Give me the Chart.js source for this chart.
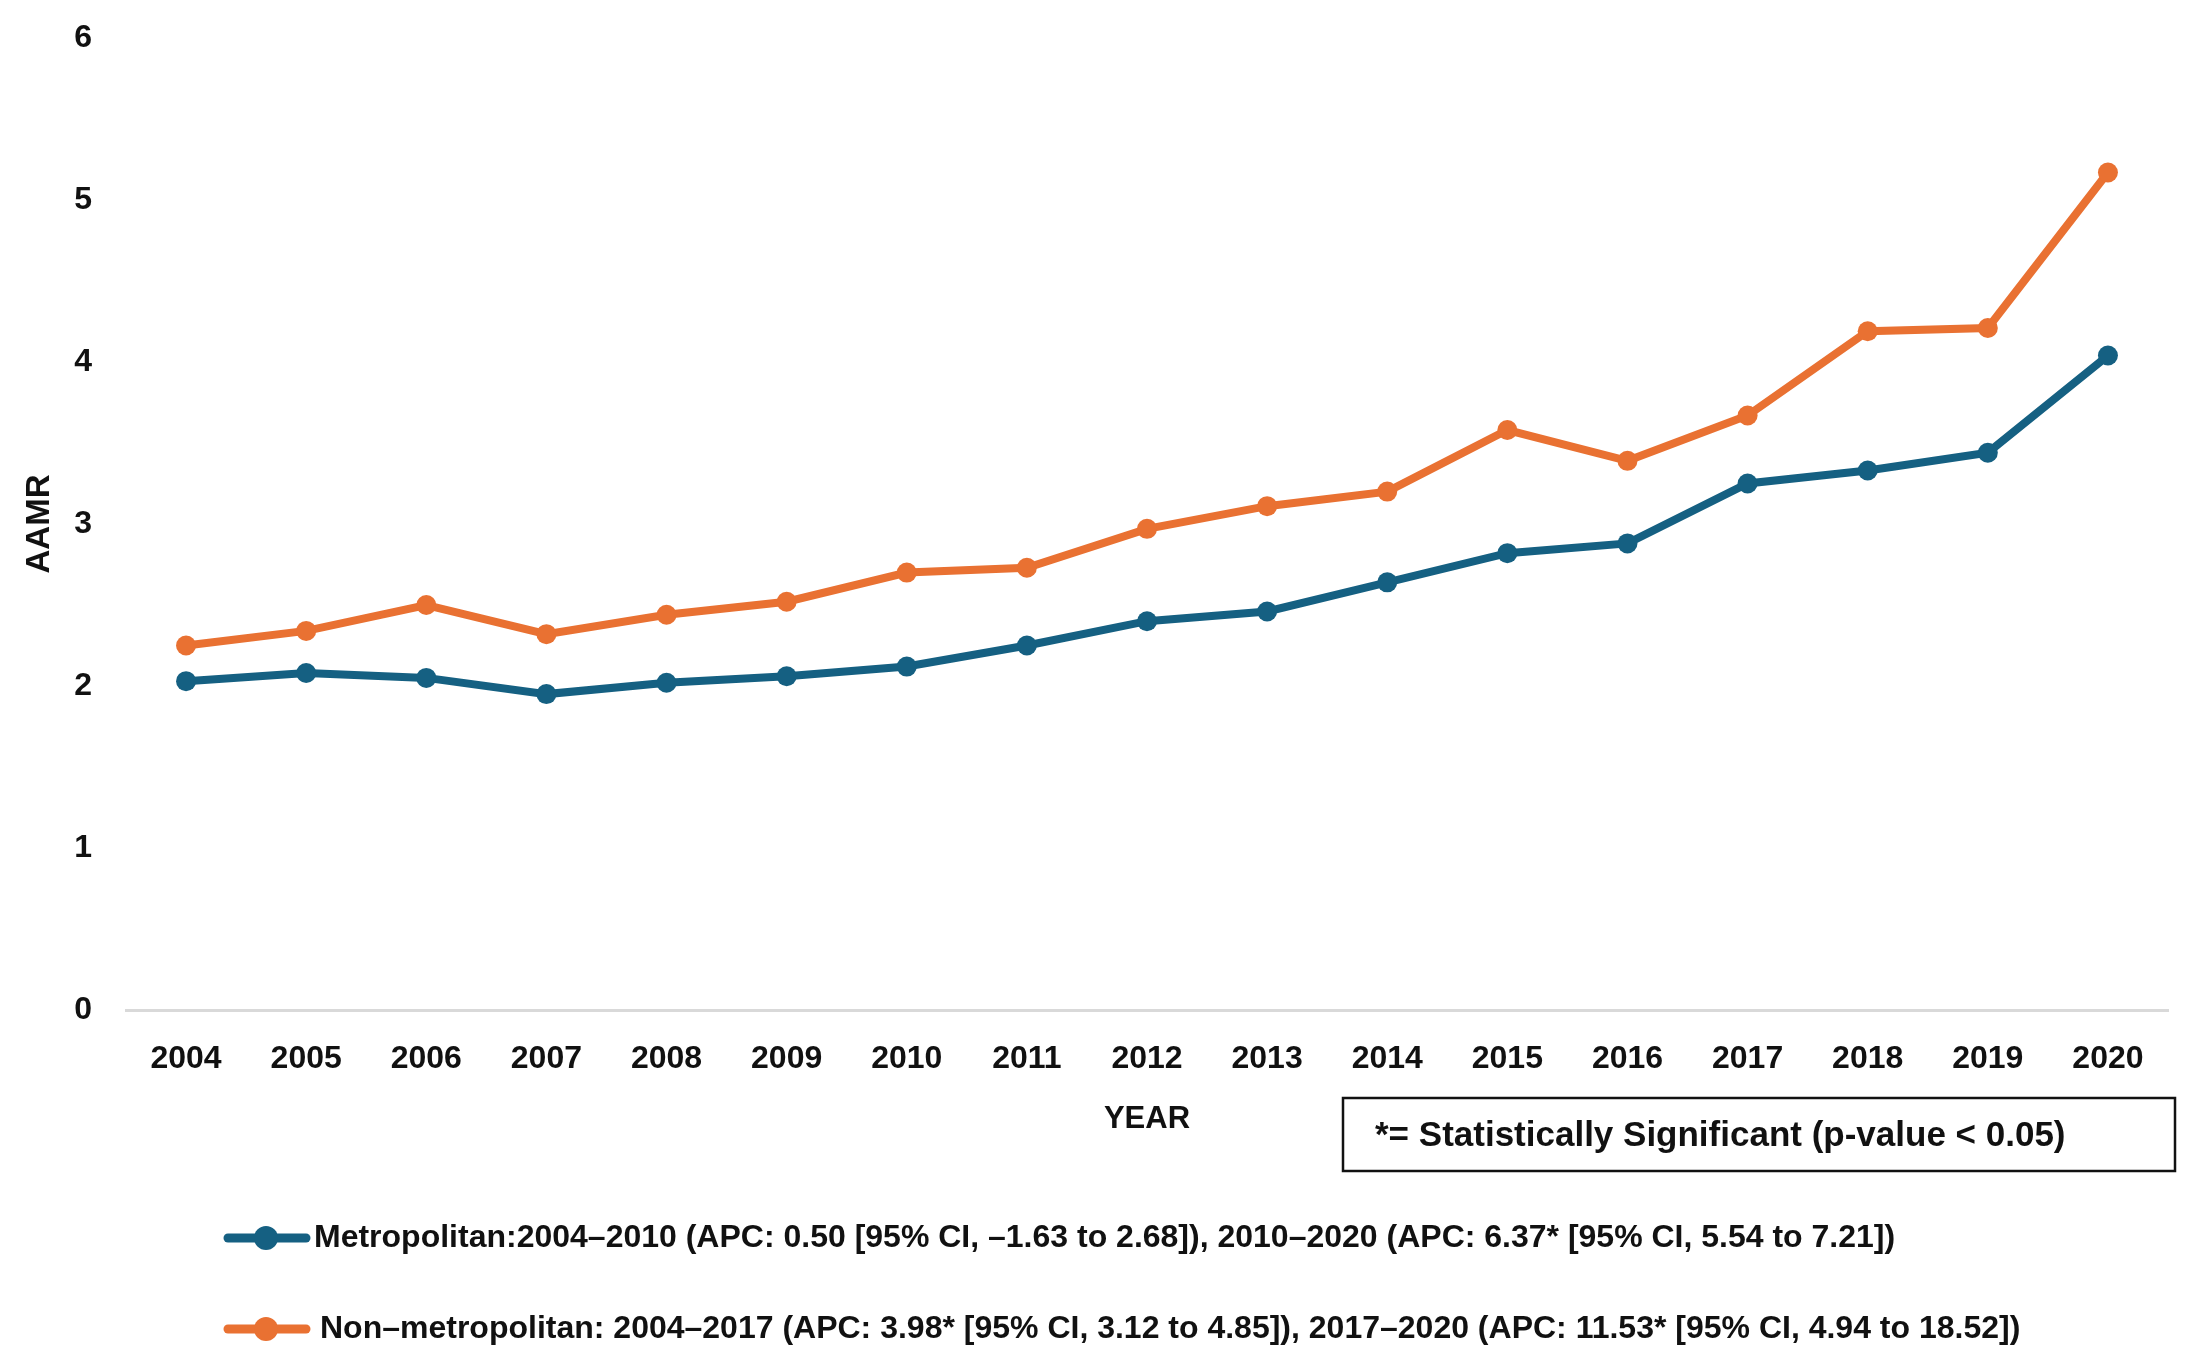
<!DOCTYPE html>
<html>
<head>
<meta charset="utf-8">
<title>AAMR by urbanization</title>
<script src="https://cdn.jsdelivr.net/npm/chart.js@4.4.1/dist/chart.umd.min.js"></script>
<style>
  html, body { margin: 0; padding: 0; background: #fff; }
  #wrap { width: 2193px; height: 1367px; position: relative; }
</style>
</head>
<body>
<div id="wrap"><canvas id="aamrChart"></canvas></div>
<script>
// data
const years = ["2004", "2005", "2006", "2007", "2008", "2009", "2010", "2011", "2012",
               "2013", "2014", "2015", "2016", "2017", "2018", "2019", "2020"];
const metroValues = [2.03, 2.08, 2.05, 1.95, 2.02, 2.06, 2.12, 2.25, 2.40,
                     2.46, 2.64, 2.82, 2.88, 3.25, 3.33, 3.44, 4.04];
const nonMetroValues = [2.25, 2.34, 2.50, 2.32, 2.44, 2.52, 2.70, 2.73, 2.97,
                        3.11, 3.20, 3.58, 3.39, 3.67, 4.19, 4.21, 5.17];
const yMin = 0;
const yMax = 6;
const yStep = 1;

const metroLabel = "Metropolitan:2004–2010 (APC: 0.50 [95% CI, –1.63 to 2.68]), 2010–2020 (APC: 6.37* [95% CI, 5.54 to 7.21])";
const nonMetroLabel = "Non–metropolitan: 2004–2017 (APC: 3.98* [95% CI, 3.12 to 4.85]), 2017–2020 (APC: 11.53* [95% CI, 4.94 to 18.52])";
const noteText = "*= Statistically Significant (p-value < 0.05)";

const blue = "#156082";
const orange = "#E97132";
const textColor = "#111111";
const fontFamily = "'Liberation Sans', Arial, sans-serif";

Chart.defaults.font.family = fontFamily;
Chart.defaults.font.weight = "bold";
Chart.defaults.color = textColor;

// legend rows and the significance note, drawn under the axes
const legendAndNote = {
  id: "legendAndNote",
  afterDraw(chart) {
    const ctx = chart.ctx;
    const rows = [1238, 1329];
    ctx.save();
    ctx.font = "bold 32px " + fontFamily;
    ctx.textBaseline = "middle";
    chart.data.datasets.forEach((ds, i) => {
      const y = rows[i];
      ctx.strokeStyle = ds.borderColor;
      ctx.lineWidth = 9;
      ctx.lineCap = "round";
      ctx.beginPath();
      ctx.moveTo(228, y);
      ctx.lineTo(306, y);
      ctx.stroke();
      ctx.fillStyle = ds.borderColor;
      ctx.beginPath();
      ctx.arc(266, y, 12, 0, Math.PI * 2);
      ctx.fill();
      ctx.fillStyle = textColor;
      ctx.fillText(ds.label, 314 + i * 6, y);
    });

    ctx.strokeStyle = "#111";
    ctx.lineWidth = 2.5;
    ctx.strokeRect(1343, 1098, 832, 73);
    ctx.font = "bold 35px " + fontFamily;
    ctx.fillText(noteText, 1375, 1136);
    ctx.restore();
  }
};

new Chart(document.getElementById("aamrChart"), {
  type: "line",
  data: {
    labels: years,
    datasets: [
      {
        label: metroLabel,
        data: metroValues,
        borderColor: blue,
        backgroundColor: blue,
        borderWidth: 8,
        pointRadius: 10,
        pointBorderWidth: 0,
        pointBackgroundColor: blue,
        tension: 0,
        fill: false
      },
      {
        label: nonMetroLabel,
        data: nonMetroValues,
        borderColor: orange,
        backgroundColor: orange,
        borderWidth: 8,
        pointRadius: 10,
        pointBorderWidth: 0,
        pointBackgroundColor: orange,
        tension: 0,
        fill: false
      }
    ]
  },
  options: {
    responsive: true,
    maintainAspectRatio: false,
    animation: false,
    layout: { padding: { top: 38, right: 25, bottom: 229, left: 0 } },
    plugins: {
      legend: { display: false },
      tooltip: { enabled: false }
    },
    scales: {
      x: {
        offset: true,
        grid: { display: false, drawTicks: false },
        border: { display: true, color: "#d9d9d9", width: 3 },
        ticks: { font: { size: 32, weight: "bold" }, padding: 30, maxRotation: 0, autoSkip: false },
        title: { display: true, text: "YEAR", font: { size: 31, weight: "bold" }, padding: { top: 0, bottom: 0 } },
        afterFit(scale) {
          scale.height = 128;
        }
      },
      y: {
        min: yMin,
        max: yMax,
        grid: { display: false, drawTicks: false },
        border: { display: false },
        ticks: { stepSize: yStep, font: { size: 32, weight: "bold" }, padding: 34 },
        title: { display: true, text: "AAMR", font: { size: 33, weight: "bold" }, padding: { top: 20, bottom: 0 } },
        afterFit(scale) {
          scale.width = 126;
          scale.paddingTop = 19;
          scale.paddingBottom = 19;
        }
      }
    }
  },
  plugins: [legendAndNote]
});
</script>
</body>
</html>
